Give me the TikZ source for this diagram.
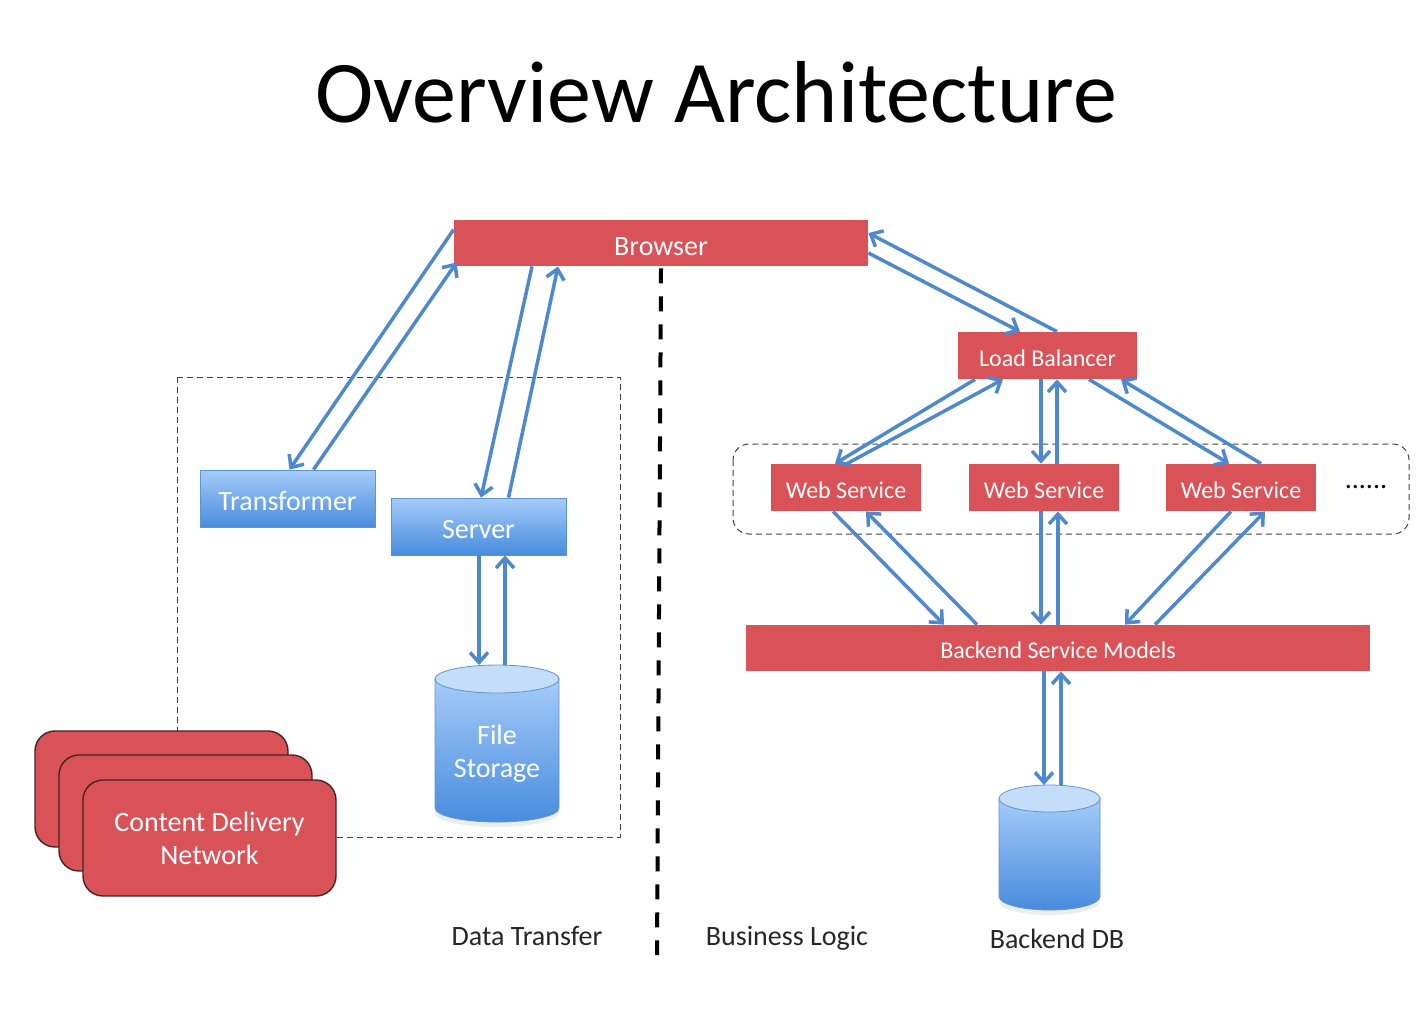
\documentclass[tikz,border=0pt]{standalone}
\usepackage{fontspec}
\setmainfont{Carlito}
\usetikzlibrary{positioning,arrows.meta}

\definecolor{boxred}{RGB}{217,82,87}
\definecolor{boxlight}{RGB}{165,203,249}
\definecolor{boxdark}{RGB}{72,140,222}
\definecolor{boxedge}{RGB}{95,148,210}
\definecolor{caplight}{RGB}{196,221,248}
\definecolor{flowblue}{RGB}{78,137,205}
\definecolor{cdnedge}{RGB}{70,35,38}

\begin{document}
\begin{tikzpicture}[x=0.5pt,y=-0.5pt,
		redbox/.style={fill=boxred,text=white,inner sep=0pt,text height=10.7pt,text depth=0pt,
			font=\fontsize{12}{14}\selectfont},
		bluebox/.style={draw=boxedge,top color=boxlight,bottom color=boxdark,text=white,inner sep=0pt,
			text height=12pt,text depth=0pt,minimum width=87.5pt,minimum height=28.5pt,
			font=\fontsize{14}{16}\selectfont},
		cdnbox/.style={draw=cdnedge,line width=0.7pt,fill=boxred,rounded corners=10pt,
			minimum width=126.5pt,minimum height=58pt},
		drum/.style={draw=boxedge,top color=boxlight,bottom color=boxdark},
		drumcap/.style={draw=boxedge,fill=caplight},
		drumtext/.style={text=white,align=center,font=\fontsize{14}{16.5}\selectfont},
		flow/.style={draw=flowblue,line width=1.75pt,-{Straight Barb[length=5pt,width=9pt]}},
		groupline/.style={draw=black!75,line width=0.5pt,dash pattern=on 3pt off 2pt},
		divider/.style={draw=black,line width=2pt,dash pattern=on 7.5pt off 6.5pt},
		areatext/.style={text=black!85,font=\fontsize{14}{16}\selectfont}
	]
	\useasboundingbox (0,0) rectangle (1428,1008);

	% Title
	\node[font=\fontsize{44}{50}\selectfont] (title) at (716,92) {Overview Architecture};

	% Browser
	\node[redbox,minimum width=207pt,minimum height=23pt,text height=12pt,font=\fontsize{14}{16}\selectfont] (browser) at (661,243) {Browser};

	% Data transfer side
	\draw[groupline] (177,377) rectangle (620,837);
	\node[bluebox] (transformer) at (287.5,498.5) {Transformer};
	\node[bluebox] (server) at (478.5,526.5) {Server};

	% Drums (storage and db)
	\foreach \name/\cx/\lft/\rgt/\tp/\capy/\boty/\rx/\ry in
		{storage/497/435/559/665/679/808/31pt/7pt,db/1049.5/999/1100/785/798.5/896.5/25.25pt/6.75pt} {
		\fill[black!7] (\cx,\boty+5) ellipse [x radius=\rx,y radius=\ry];
		\shade[drum] (\lft,\capy) -- (\lft,\boty)
			arc[start angle=180,end angle=360,x radius=\rx,y radius=\ry] -- (\rgt,\capy) -- cycle;
		\draw[drumcap] (\cx,\capy) ellipse [x radius=\rx,y radius=\ry];
		\coordinate (\name) at (\cx,\tp);
	}
	\node[drumtext] (storagetext) at (497,754) {File\\Storage};

	% CDN stack
	\foreach \i/\x/\y in {3/161.5/789,2/185.5/813}
		\node[cdnbox] (cdn\i) at (\x,\y) {};
	\node[cdnbox,text=white,align=center,font=\fontsize{14}{16.5}\selectfont] (cdn1) at (209.5,838) {Content Delivery\\Network};

	% Business logic side
	\node[redbox,minimum width=89.5pt,minimum height=23.5pt] (lb) at (1047.5,355.5) {Load Balancer};
	\draw[groupline,rounded corners=8pt] (733,444) rectangle (1409,534);
	\foreach \n/\x in {1/846,2/1044,3/1241}
		\node[redbox,minimum width=75pt,minimum height=23.5pt] (ws\n) at (\x,487.5) {Web Service};
	\node[font=\fontsize{14}{16}\selectfont] (more) at (1366,487) {......};
	\node[redbox,minimum width=312pt,minimum height=23pt] (bsm) at (1058,648) {Backend Service Models};

	% Labels
	\node[areatext] (transferlabel) at (527,936) {Data Transfer};
	\node[areatext] (logiclabel) at (787,938) {Business Logic};
	\node[areatext] (dblabel) at (1057,939) {Backend DB};

	% Divider
	\coordinate (divend) at (657,955);
	\draw[divider] ([yshift=-1pt]browser.south) -- (divend);

	% Browser <-> transformer, server
	\draw[flow] ([yshift=-5pt]browser.north west) -- ([xshift=1pt]transformer.north);
	\draw[flow] ([xshift=13pt]transformer.north) -- ([xshift=1.5pt,yshift=2pt]browser.south west);
	\draw[flow] ([xshift=-64.5pt]browser.south) -- ([xshift=1.25pt]server.north);
	\draw[flow] ([xshift=15pt]server.north) -- ([xshift=-51.5pt]browser.south);
	\draw[flow] ([xshift=0.25pt]server.south) -- ([xshift=-9pt]storage);
	\draw[flow] ([xshift=4pt]storage) -- ([xshift=13.25pt]server.south);

	% Browser <-> load balancer
	\draw[flow] ([xshift=4.75pt]lb.north) -- ([yshift=5pt]browser.east);
	\draw[flow] ([yshift=-5pt]browser.east) -- ([xshift=-13.75pt]lb.north);

	% Load balancer <-> web services
	\draw[flow] ([xshift=-36.25pt]lb.south) -- ([xshift=-5.5pt]ws1.north);
	\draw[flow] ([xshift=0.5pt]ws1.north) -- ([xshift=-22.25pt]lb.south);
	\draw[flow] ([xshift=-3.25pt]lb.south) -- ([xshift=-1.5pt]ws2.north);
	\draw[flow] ([xshift=6.5pt]ws2.north) -- ([xshift=4.75pt]lb.south);
	\draw[flow] ([xshift=20.75pt]lb.south) -- ([xshift=-6pt]ws3.north);
	\draw[flow] ([xshift=10pt]ws3.north) -- ([xshift=36.75pt]lb.south);

	% Web services <-> backend
	\draw[flow] ([xshift=-6.5pt]ws1.south) -- ([xshift=-57pt]bsm.north);
	\draw[flow] ([xshift=-40.5pt]bsm.north) -- ([xshift=10pt]ws1.south);
	\draw[flow] ([xshift=-1.5pt]ws2.south) -- ([xshift=-8.5pt]bsm.north);
	\draw[flow] (bsm.north) -- ([xshift=7pt]ws2.south);
	\draw[flow] ([xshift=-5pt]ws3.south) -- ([xshift=33.5pt]bsm.north);
	\draw[flow] ([xshift=48.5pt]bsm.north) -- ([xshift=12pt]ws3.south);

	% Backend <-> DB
	\draw[flow] ([xshift=-7pt]bsm.south) -- ([xshift=-2.75pt]db);
	\draw[flow] ([xshift=5.75pt]db) -- ([xshift=1.5pt]bsm.south);

\end{tikzpicture}
\end{document}
